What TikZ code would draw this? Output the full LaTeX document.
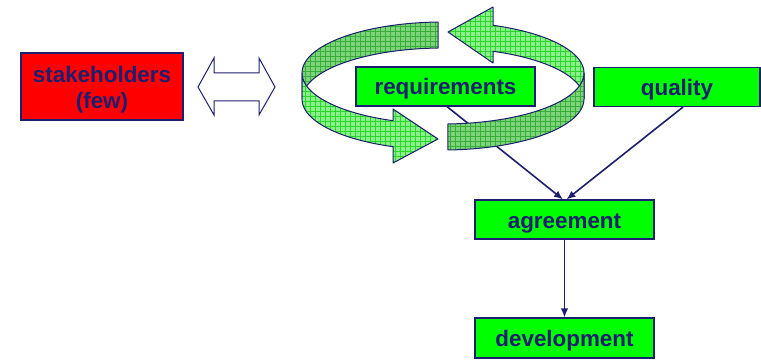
\documentclass[tikz,border=0pt]{standalone}
\usepackage{fontspec}
\setmainfont{Liberation Sans}
\usetikzlibrary{arrows.meta,patterns}

\definecolor{navy}{RGB}{30,30,112}
\definecolor{boxgreen}{RGB}{0,255,0}
\definecolor{boxred}{RGB}{255,0,0}
\definecolor{ribbonlight}{RGB}{140,240,140}
\definecolor{gridlight}{RGB}{40,215,40}
\definecolor{ribbondark}{RGB}{125,212,125}
\definecolor{griddark}{RGB}{55,175,55}

% square grid used on the circular ribbon
\pgfdeclarepatternformonly{ribbongrid}{\pgfqpoint{-0.5pt}{-0.5pt}}{\pgfqpoint{5.5pt}{5.5pt}}{\pgfqpoint{5pt}{5pt}}{%
  \pgfsetlinewidth{0.6pt}%
  \pgfpathmoveto{\pgfqpoint{0pt}{0pt}}\pgfpathlineto{\pgfqpoint{5.1pt}{0pt}}%
  \pgfpathmoveto{\pgfqpoint{0pt}{0pt}}\pgfpathlineto{\pgfqpoint{0pt}{5.1pt}}%
  \pgfusepath{stroke}}

\tikzset{
  stepbox/.style={rectangle, draw=navy, line width=1.1pt, fill=boxgreen,
    text=navy, font=\fontsize{22.4}{25}\selectfont\bfseries, inner sep=0pt,
    text height=17pt, text depth=0pt,
    minimum width=179pt, minimum height=39pt},
  flowarrow/.style={draw=navy, line width=1.6pt, -{Latex[length=9pt,width=7.5pt]}},
  ribbonlit/.style={preaction={fill=ribbonlight}, pattern=ribbongrid,
    pattern color=gridlight, draw=navy, line width=1pt, line join=round},
  ribbonshade/.style={preaction={fill=ribbondark}, pattern=ribbongrid,
    pattern color=griddark, draw=navy, line width=1pt, line join=round},
}

\begin{document}
\begin{tikzpicture}[x=1pt,y=-1pt]
\useasboundingbox (0,0) rectangle (761,361);

% boxes
\node[stepbox, fill=boxred, minimum width=162pt, minimum height=67pt, align=center,
  text height=43pt, text depth=0pt]
  (stake) at (102,86.5) {stakeholders\\(few)};
\node[stepbox] (req) at (445.5,86.5) {requirements};
\node[stepbox, minimum width=166pt] (qual) at (677,87) {quality};
\node[stepbox] (agr) at (564.5,219.5) {agreement};
\node[stepbox, minimum height=40pt] (dev) at (564.5,338) {development};

% two-way exchange arrow
\draw[navy, line width=1pt, fill=white, line join=miter]
  (198,87) -- (214,58) -- (214,73) -- (259,73) -- (259,58) -- (275,87)
  -- (259,115) -- (259,101) -- (214,101) -- (214,115) -- cycle;

% flow connectors
\draw[flowarrow] ([xshift=1.5pt]req.south) -- ([xshift=-1.5pt]agr.north);
\draw[flowarrow] ([xshift=6pt]qual.south) -- ([xshift=2pt]agr.north);
\draw[flowarrow] (agr.south) -- (dev.north);

% circular ribbon: upper edge centred at (443,73), lower edge at (443,99)
% back half of the left-hand arrow
\path[ribbonshade]
  plot[domain=268:180, samples=40, variable=\t] ({443+141*cos(\t)},{73+51*sin(\t)})
  -- plot[domain=180:268, samples=40, variable=\t] ({443+141*cos(\t)},{99+51*sin(\t)})
  -- cycle;
% back half of the right-hand arrow, with its head
\path[ribbonlit]
  plot[domain=360:290.77, samples=40, variable=\t] ({443+141*cos(\t)},{73+51*sin(\t)})
  -- (493,7) -- (448,32) -- (493,63)
  -- plot[domain=290.77:360, samples=40, variable=\t] ({443+141*cos(\t)},{99+51*sin(\t)})
  -- cycle;
% front half of the left-hand arrow, with its head
\path[ribbonlit]
  plot[domain=180:110.77, samples=40, variable=\t] ({443+141*cos(\t)},{73+51*sin(\t)})
  -- (393,109) -- (438,139) -- (393,163)
  -- plot[domain=110.77:180, samples=40, variable=\t] ({443+141*cos(\t)},{99+51*sin(\t)})
  -- cycle;
% front half of the right-hand arrow
\path[ribbonshade, fill opacity=0.72]
  plot[domain=87.97:0, samples=40, variable=\t] ({443+141*cos(\t)},{73+51*sin(\t)})
  -- plot[domain=0:87.97, samples=40, variable=\t] ({443+141*cos(\t)},{99+51*sin(\t)})
  -- cycle;
\end{tikzpicture}
\end{document}
